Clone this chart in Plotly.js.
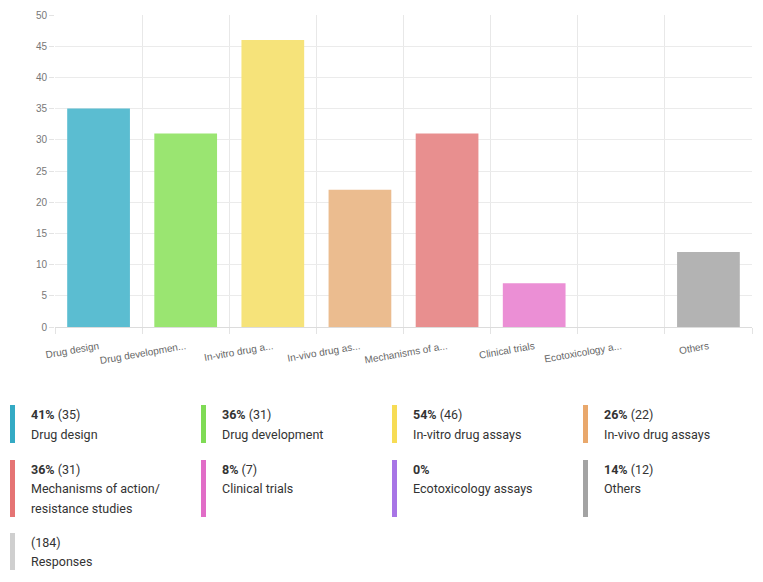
<!DOCTYPE html>
<html>
<head>
<meta charset="utf-8">
<script src="https://cdn.plot.ly/plotly-3.0.1.min.js"></script>
<style>
  html, body { margin: 0; padding: 0; background: #fff; }
  #chart { width: 763px; height: 582px; }
</style>
</head>
<body>
<div id="chart"></div>
<script>
// ---- data ----
const tickLabels = ["Drug design", "Drug developmen...", "In-vitro drug a...", "In-vivo drug as...",
                    "Mechanisms of a...", "Clinical trials", "Ecotoxicology a...", "Others"];
const fullLabels = ["Drug design", "Drug development", "In-vitro drug assays", "In-vivo drug assays",
                    "Mechanisms of action/<br>resistance studies", "Clinical trials", "Ecotoxicology assays", "Others"];
const values = [35, 31, 46, 22, 31, 7, 0, 12];
const percents = [41, 36, 54, 26, 36, 8, 0, 14];
const barColors = ["#5bbdd1", "#9ae571", "#f6e37a", "#ebbc8f", "#e88f8f", "#eb8fd5", "#b58ceb", "#b3b3b3"];
const legendColors = ["#34aac4", "#7fdb55", "#f7dc55", "#e9a86c", "#e57474", "#e16dc7", "#a875e6", "#a3a3a3"];
const responsesTotal = 184;
const responsesLabel = "Responses";
const responsesColor = "#cfcfcf";

// ---- layout geometry (pixels) ----
const W = 763, H = 582;
const L = 55, R = 752, T = 15, B = 327;
const px = x => (x - L) / (R - L);
const py = y => (B - y) / (B - T);

const shapes = [];
const annotations = [];
const colX = [10, 201, 392, 583];
const rows = [
  {top: 405, bottom: 443, lines: [415, 434, 453]},
  {top: 460, bottom: 517, lines: [469, 488, 508]},
];
const font = {family: "Roboto, 'Open Sans', sans-serif", size: 12.5, color: "#333"};

function addItem(col, row, head, nameLines, color) {
  const x0 = colX[col];
  shapes.push({type: "rect", xref: "paper", yref: "paper",
    x0: px(x0), x1: px(x0 + 5), y0: py(row.bottom), y1: py(row.top),
    fillcolor: color, line: {width: 0}, layer: "above"});
  const lines = [head].concat(nameLines);
  lines.forEach((t, i) => {
    annotations.push({xref: "paper", yref: "paper", x: px(x0 + 19), y: py(row.lines[i]),
      xanchor: "left", yanchor: "middle", showarrow: false, text: t, font: font, align: "left"});
  });
}

for (let i = 0; i < values.length; i++) {
  const row = rows[Math.floor(i / 4)];
  const head = "<b>" + percents[i] + "%</b>" + (values[i] > 0 ? " (" + values[i] + ")" : "");
  const names = fullLabels[i].split("<br>");
  addItem(i % 4, row, head, names, legendColors[i]);
}
addItem(0, {top: 533, bottom: 570, lines: [542, 561]}, "(" + responsesTotal + ")", [responsesLabel], responsesColor);

const trace = {
  type: "bar",
  x: tickLabels,
  y: values,
  marker: {color: barColors, line: {width: 0}},
  hoverinfo: "x+y"
};

const layout = {
  width: W, height: H,
  margin: {l: L, r: W - R, t: T, b: H - B, pad: 0},
  paper_bgcolor: "#fff", plot_bgcolor: "#fff",
  showlegend: false,
  bargap: 0.28,
  font: {family: "'Liberation Sans', Arial, sans-serif", size: 10, color: "#666"},
  xaxis: {
    type: "category",
    tickson: "boundaries",
    ticks: "outside", ticklen: 6, tickcolor: "#e3e3e3",
    showgrid: true, gridcolor: "#e8e8e8", gridwidth: 1,
    showline: true, linecolor: "#dcdcdc", linewidth: 1,
    tickangle: -10,
    ticklabelstandoff: 9,
    tickfont: {family: "'Liberation Sans', Arial, sans-serif", size: 10, color: "#666"},
    range: [-0.5, 7.5],
    fixedrange: true
  },
  yaxis: {
    range: [0, 50], dtick: 5, tick0: 0,
    ticks: "outside", ticklen: 5, tickcolor: "#e3e3e3",
    showgrid: true, gridcolor: "#ebebeb", gridwidth: 1,
    zeroline: false, showline: false,
    tickfont: {family: "'Liberation Sans', Arial, sans-serif", size: 10, color: "#777"},
    fixedrange: true
  },
  shapes: shapes,
  annotations: annotations
};

Plotly.newPlot("chart", [trace], layout, {displayModeBar: false, staticPlot: true});
</script>
</body>
</html>
